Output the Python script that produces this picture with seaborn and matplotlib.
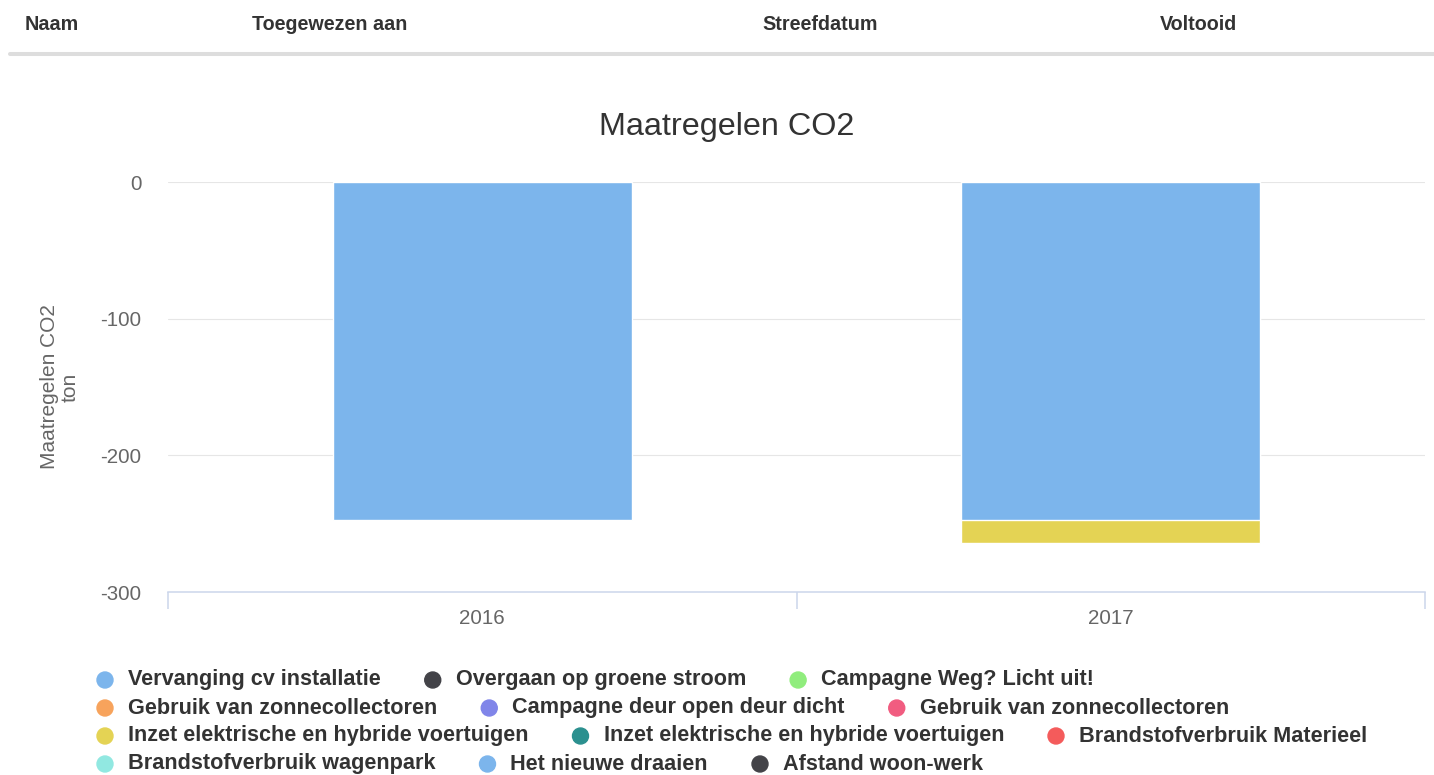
import matplotlib
matplotlib.use("Agg")
import numpy as np
import pandas as pd
import matplotlib.pyplot as plt
import seaborn as sns
from matplotlib.lines import Line2D
from matplotlib.patches import Ellipse

# data (ton CO2 per year)
years = ["2016", "2017"]
series_names = [
    "Vervanging cv installatie",
    "Overgaan op groene stroom",
    "Campagne Weg? Licht uit!",
    "Gebruik van zonnecollectoren",
    "Campagne deur open deur dicht",
    "Gebruik van zonnecollectoren",
    "Inzet elektrische en hybride voertuigen",
    "Inzet elektrische en hybride voertuigen",
    "Brandstofverbruik Materieel",
    "Brandstofverbruik wagenpark",
    "Het nieuwe draaien",
    "Afstand woon-werk",
]
series_colors = [
    "#7cb5ec", "#434348", "#90ed7d", "#f7a35c", "#8085e9", "#f15c80",
    "#e4d354", "#2b908f", "#f45b5b", "#91e8e1", "#7cb5ec", "#434348",
]
series_values = [
    [-247, -247],
    [0, 0],
    [0, 0],
    [0, 0],
    [0, 0],
    [0, 0],
    [0, -17],
    [0, 0],
    [0, 0],
    [0, 0],
    [0, 0],
    [0, 0],
]
y_ticks = [0, -100, -200, -300]
header_labels = ["Naam", "Toegewezen aan", "Streefdatum", "Voltooid"]
header_x = [25, 252, 762, 1160]

W, H = 1434, 775
TXT = "#333333"
AX_TXT = "#666666"

sns.set_theme(style="white")
plt.rcParams["font.family"] = ["Liberation Sans", "DejaVu Sans"]

fig = plt.figure(figsize=(W / 100, H / 100), dpi=100)
fig.patch.set_facecolor("white")

"""
TABLE HEADER above the chart
"""
for lab, hx in zip(header_labels, header_x):
    fig.text(hx / W, 1 - 25 / H, lab, ha="left", va="center",
             fontsize=14.2, fontweight="bold", color=TXT)
fig.add_artist(Line2D([10 / W, 1], [1 - 54 / H, 1 - 54 / H],
                      transform=fig.transFigure, color="#dddddd", lw=2.9))

"""
STACKED BARS (negative stack, first series closest to zero)
"""
rows = []
for name, idx, vals in zip(series_names, range(len(series_names)), series_values):
    for yr, v in zip(years, vals):
        rows.append({"serie": idx, "naam": name, "jaar": yr, "waarde": v})
df = pd.DataFrame(rows)
df["cum"] = df.groupby("jaar")["waarde"].cumsum()
df.loc[df["waarde"] == 0, "cum"] = np.nan

ax = fig.add_axes([168 / W, 1 - 592 / H, (1425 - 168) / W, (592 - 182) / H])
for idx in reversed(range(len(series_names))):
    sub = df[df["serie"] == idx]
    if sub["cum"].isna().all():
        continue
    sns.barplot(data=sub, x="jaar", y="cum", order=years, color=series_colors[idx],
                saturation=1, width=0.475, edgecolor="white", linewidth=1,
                errorbar=None, ax=ax, zorder=3)

ax.set_xlim(-0.5, 1.5)
ax.set_ylim(-300, 0)
ax.set_yticks(y_ticks)
ax.set_yticklabels([str(t) for t in y_ticks])
ax.set_xticks(range(len(years)))
ax.set_xticklabels(years)
ax.set_xticks([-0.5, 0.5, 1.5], minor=True)
ax.tick_params(axis="y", length=0, pad=19, labelsize=14.8, labelcolor=AX_TXT)
ax.tick_params(axis="x", which="major", bottom=True, length=0, pad=12,
               labelsize=14.8, labelcolor=AX_TXT)
ax.tick_params(axis="x", which="minor", bottom=True, length=12, width=1.1,
               color="#ccd6eb", direction="out")
ax.yaxis.grid(True, color="#e6e6e6", lw=0.8, zorder=0)
ax.set_axisbelow(True)
for s in ["top", "left", "right"]:
    ax.spines[s].set_visible(False)
ax.spines["bottom"].set_color("#ccd6eb")
ax.spines["bottom"].set_linewidth(1.1)
ax.set_xlabel("")
ax.set_ylabel("Maatregelen CO2\nton", fontsize=15, color=AX_TXT, linespacing=1.15)
ax.yaxis.set_label_coords((80 - 168) / (1425 - 168), 0.5)

fig.text(727 / W, 1 - 127 / H, "Maatregelen CO2", ha="center", va="center",
         fontsize=23.3, color=TXT)

"""
LEGEND (flowing, like the web chart)
"""
renderer = fig.canvas.get_renderer()
x, y = 97, 680
for name, col in zip(series_names, series_colors):
    t = fig.text(0, 0, name, fontsize=15.6, fontweight="bold", color=TXT,
                 ha="left", va="center")
    w = t.get_window_extent(renderer).width
    if x + 31 + w > 1425 and x > 97:
        x = 97
        y += 28
    t.set_position(((x + 31) / W, 1 - y / H))
    fig.add_artist(Ellipse(((x + 8) / W, 1 - y / H), 16 / W, 16 / H,
                           transform=fig.transFigure, color=col))
    x += 31 + w + 44

plt.savefig("out.png", dpi=100)
